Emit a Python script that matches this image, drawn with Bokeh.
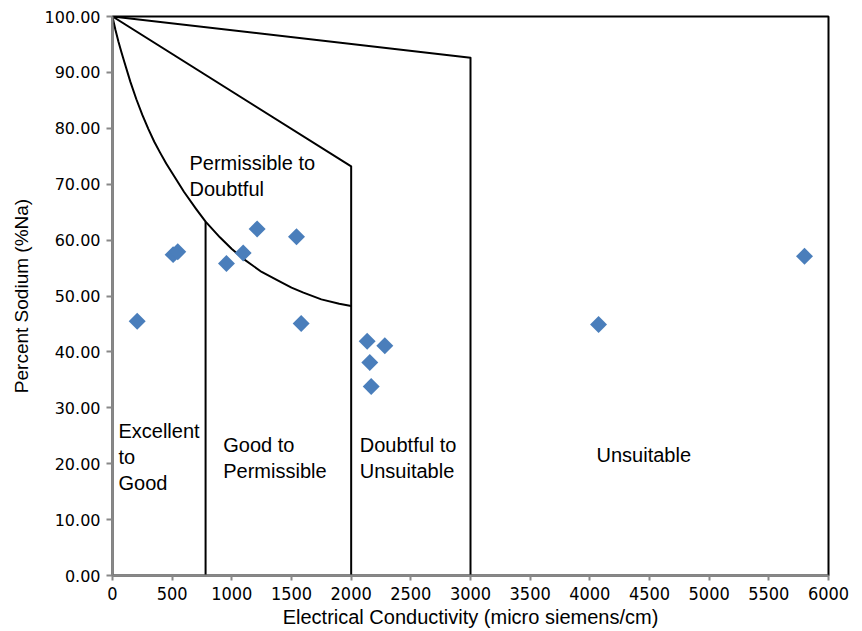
import math

from bokeh.plotting import figure
from bokeh.models import Range1d, FixedTicker, NumeralTickFormatter, ColumnDataSource
from bokeh.core.properties import value
from bokeh.embed import file_html
from bokeh.resources import INLINE

# Water samples: electrical conductivity (micro siemens/cm) and percent sodium
ec = [207, 508, 547, 955, 1095, 1212, 1542, 1581, 2134, 2156, 2282, 2168, 4073, 5799]
na = [45.5, 57.4, 57.9, 55.8, 57.7, 62.0, 60.6, 45.1, 41.9, 38.1, 41.1, 33.8, 44.9, 57.1]

# Wilcox class boundaries
unsuit_x = [0, 3000, 3000]
unsuit_y = [100, 92.6, 0]
doubt_x = [0, 2000, 2000]
doubt_y = [100, 73.2, 0]
perm_x = [0, 10, 25, 50, 75, 100, 150, 200, 250, 300, 350, 400, 450, 500,
          600, 700, 780, 900, 1000, 1100, 1250, 1400, 1500, 1600, 1750, 1900, 2000]
perm_y = [100, 99.0, 97.6, 95.5, 93.6, 91.8, 88.3, 85.2, 82.4, 79.9, 77.6, 75.6, 73.7, 72.0,
          68.6, 65.6, 63.3, 60.5, 58.4, 56.6, 54.3, 52.6, 51.5, 50.6, 49.4, 48.6, 48.2]
good_x = [780, 780]
good_y = [63.3, 0]

x_ticks = list(range(0, 6001, 500))
y_ticks = list(range(0, 101, 10))

class_names = ["Excellent\nto\nGood", "Good to\nPermissible", "Permissible to\nDoubtful",
               "Doubtful to\nUnsuitable", "Unsuitable"]

p = figure(width=862, height=631,
           x_range=Range1d(0, 6000), y_range=Range1d(0, 100),
           output_backend="svg", toolbar_location=None,
           min_border_left=112, min_border_right=34,
           min_border_top=16, min_border_bottom=56)

p.background_fill_color = "white"
p.border_fill_color = "white"
p.outline_line_color = "black"
p.outline_line_width = 2
p.xgrid.visible = False
p.ygrid.visible = False

# class boundary lines
for bx, by in [(unsuit_x, unsuit_y), (doubt_x, doubt_y), (perm_x, perm_y), (good_x, good_y)]:
    p.line(bx, by, line_color="black", line_width=2, line_join="round")

# class names
label_x = [50, 928, 645, 2072, 4056]
label_y = [27.9, 25.4, 75.8, 25.4, 23.6]
src = ColumnDataSource(dict(x=label_x, y=label_y, t=class_names))
p.text(x="x", y="y", text="t", source=src,
       text_font=value("Liberation Sans"), text_font_size="20px",
       text_color="black", text_baseline="top", text_align="left",
       text_line_height=1.2)

# samples
p.scatter(ec, na, marker="square", angle=math.pi / 4, size=12,
          fill_color="#4a7ebb", line_color=None)

# axes
p.xaxis.ticker = FixedTicker(ticks=x_ticks)
p.yaxis.ticker = FixedTicker(ticks=y_ticks)
p.yaxis.formatter = NumeralTickFormatter(format="0.00")
p.xaxis.axis_label = "Electrical Conductivity (micro siemens/cm)"
p.yaxis.axis_label = "Percent Sodium (%Na)"

for ax in (p.xaxis, p.yaxis):
    ax.axis_line_color = "#888888"
    ax.axis_line_width = 2
    ax.major_tick_line_color = "#888888"
    ax.major_tick_line_width = 2
    ax.major_tick_in = 0
    ax.minor_tick_line_color = None
    ax.major_label_text_color = "black"
    ax.axis_label_text_color = "black"
    ax.axis_label_text_font = "Liberation Sans"
    ax.axis_label_text_font_style = "normal"

p.xaxis.major_tick_out = 5
p.yaxis.major_tick_out = 6
p.xaxis.major_label_text_font = "DejaVu Sans Condensed"
p.xaxis.major_label_text_font_size = "18px"
p.xaxis.major_label_standoff = 6
p.xaxis.axis_label_text_font_size = "20px"
p.xaxis.axis_label_standoff = 3
p.yaxis.major_label_text_font = "DejaVu Sans"
p.yaxis.major_label_text_font_size = "16px"
p.yaxis.major_label_standoff = 6
p.yaxis.axis_label_text_font_size = "19px"
p.yaxis.axis_label_standoff = 10

open("out.html", "w").write(file_html(p, INLINE))
